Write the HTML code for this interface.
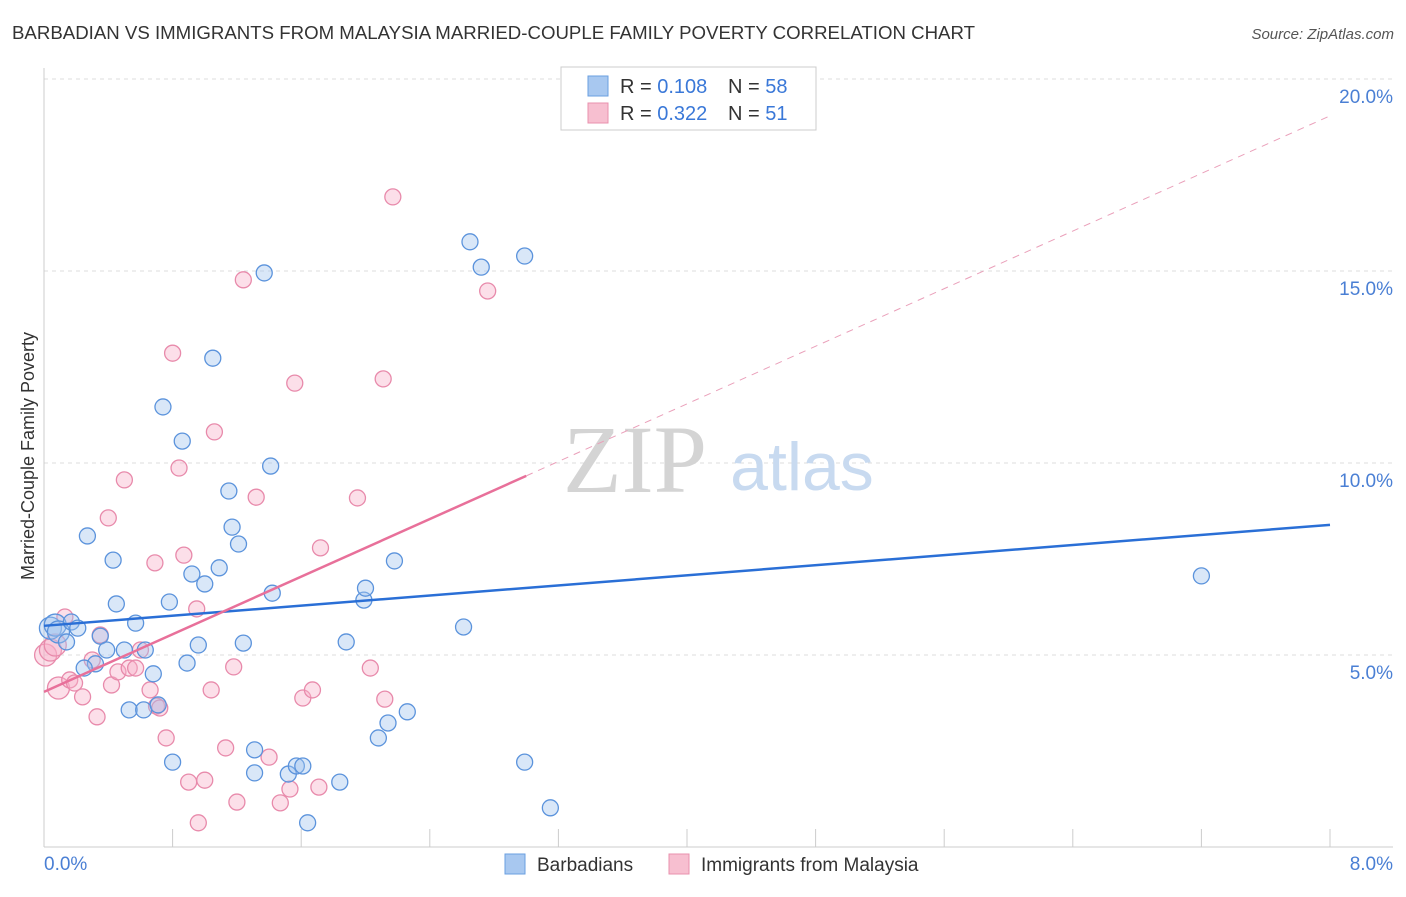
<!DOCTYPE html>
<html><head><meta charset="utf-8"><style>
body{margin:0;background:#fff;font-family:"Liberation Sans",sans-serif;}
svg text{font-family:"Liberation Sans",sans-serif;}
</style></head><body>
<svg id="c" width="1406" height="892" xmlns="http://www.w3.org/2000/svg">
<text x="12" y="39" font-size="18" fill="#333" textLength="963" lengthAdjust="spacingAndGlyphs">BARBADIAN VS IMMIGRANTS FROM MALAYSIA MARRIED-COUPLE FAMILY POVERTY CORRELATION CHART</text>
<text x="1394" y="39" font-size="15" fill="#555" font-style="italic" text-anchor="end">Source: ZipAtlas.com</text>
<text transform="translate(34,456) rotate(-90)" font-size="18" fill="#333" text-anchor="middle">Married-Couple Family Poverty</text>
<g id="grid"></g>
<text x="635" y="492" font-size="96" fill="#d4d4d4" style="font-family:'Liberation Serif',serif" text-anchor="middle">ZIP</text>
<text x="802" y="490" font-size="68" fill="#c8daf0" text-anchor="middle">atlas</text>
<g id="pts"></g>
<g id="lines"></g>
<g>
<rect x="561" y="67" width="255" height="63" fill="#fff" stroke="#ccc"/>
<rect x="588" y="76" width="20" height="20" fill="#a8c8f0" stroke="#6a9fe0"/>
<rect x="588" y="103" width="20" height="20" fill="#f7bfd0" stroke="#e890ae"/>
<text x="620" y="93" font-size="20" fill="#333">R = <tspan fill="#3a78d8">0.108</tspan></text>
<text x="728" y="93" font-size="20" fill="#333">N = <tspan fill="#3a78d8">58</tspan></text>
<text x="620" y="120" font-size="20" fill="#333">R = <tspan fill="#3a78d8">0.322</tspan></text>
<text x="728" y="120" font-size="20" fill="#333">N =  <tspan fill="#3a78d8">51</tspan></text>
</g>
<g>
<rect x="505" y="854" width="20" height="20" fill="#a8c8f0" stroke="#6a9fe0"/>
<text x="537" y="871" font-size="19" fill="#333">Barbadians</text>
<rect x="669" y="854" width="20" height="20" fill="#f7bfd0" stroke="#e890ae"/>
<text x="701" y="871" font-size="19" fill="#333">Immigrants from Malaysia</text>
</g>
</svg>
<script>
const blueX=[.04,.07,.09,.14,.17,.21,.27,.32,.25,.35,.39,.43,.45,.50,.53,.57,.62,.63,.68,.71,.74,.78,.80,.86,.89,.92,.96,1.00,1.05,1.09,1.15,1.17,1.21,1.24,1.31,1.31,1.37,1.41,1.42,1.52,1.57,1.61,1.64,1.84,1.88,1.99,2.00,2.08,2.14,2.18,2.26,2.61,2.65,2.72,2.99,2.99,3.15,7.20];
const blueY=[5.70,5.78,5.60,5.34,5.86,5.70,8.10,4.77,4.66,5.49,5.13,7.47,6.33,5.13,3.57,5.83,3.57,5.13,4.51,3.70,11.46,6.38,2.21,10.57,4.79,7.11,5.26,6.85,12.73,7.27,9.27,8.33,7.89,5.31,2.53,1.93,14.95,9.92,6.61,1.90,2.11,2.11,0.63,1.69,5.34,6.43,6.74,2.84,3.23,7.45,3.52,5.73,15.76,15.10,15.39,2.21,1.02,7.06];
const pinkX=[.01,.04,.07,.09,.13,.16,.19,.24,.30,.33,.35,.40,.42,.46,.50,.53,.57,.60,.66,.69,.70,.72,.76,.80,.84,.87,.90,.95,.96,1.00,1.04,1.06,1.13,1.18,1.20,1.24,1.32,1.40,1.47,1.53,1.56,1.61,1.67,1.71,1.72,1.95,2.03,2.11,2.12,2.17,2.76];
const pinkY=[5.00,5.13,5.26,4.14,5.99,4.35,4.27,3.91,4.87,3.39,5.52,8.57,4.22,4.56,9.56,4.66,4.66,5.13,4.09,7.40,3.67,3.62,2.84,12.86,9.87,7.60,1.69,6.20,0.63,1.74,4.09,10.81,2.58,4.69,1.17,14.77,9.11,2.34,1.15,1.51,12.08,3.88,4.09,1.56,7.79,9.09,4.66,12.19,3.85,16.93,14.48];
const yTicks=[5,10,15,20];
const yTickLabels=["5.0%","10.0%","15.0%","20.0%"];
const blueTrend=[5.76,8.39];
const pinkTrend=[4.04,19.04];
const pinkSolidEnd=3.0;
const NS="http://www.w3.org/2000/svg";
const X=v=>44+v*160.75, Y=v=>847-v*38.4;
function mk(t,a,p){const e=document.createElementNS(NS,t);for(const k in a)e.setAttribute(k,a[k]);p.appendChild(e);return e;}
const grid=document.getElementById('grid');
yTicks.forEach((t,i)=>{
 const l=mk('line',{x1:44,x2:1393,y1:Y(t),y2:Y(t),stroke:'#ddd','stroke-dasharray':'4,4'},grid);
 
 
 const tx=mk('text',{x:1393,y:Y(t)+24,'font-size':19,fill:'#4a7fd4','text-anchor':'end'},grid);
 tx.textContent=yTickLabels[i];
 
 
});
mk('line',{x1:44,x2:44,y1:68,y2:847,stroke:'#ccc'},grid);
mk('line',{x1:44,x2:1393,y1:847,y2:847,stroke:'#ccc'},grid);
for(let i=0;i<=10;i++){const t=mk('line',{x1:X(i*0.8),x2:X(i*0.8),y1:829,y2:847,stroke:'#ccc'},grid);
 
 }
const xl0=mk('text',{x:44,y:870,'font-size':19,fill:'#4a7fd4'},grid);xl0.textContent='0.0%';


const xl1=mk('text',{x:1393,y:870,'font-size':19,fill:'#4a7fd4','text-anchor':'end'},grid);xl1.textContent='8.0%';


const pts=document.getElementById('pts');
function dots(xs,ys,fill,stroke,name){xs.forEach((x,i)=>{const big=(x<0.1)?11:8;
 const c=mk('circle',{cx:X(x),cy:Y(ys[i]),r:big,fill:fill,'fill-opacity':0.4,stroke:stroke,'stroke-width':1.3},pts);
 
 });}
dots(pinkX,pinkY,'#f7b0c8','#e88aab','malaysia-point');
dots(blueX,blueY,'#9fc2ee','#5b93dc','barbadian-point');
const lg=document.getElementById('lines');
const pAt=v=>pinkTrend[0]+(pinkTrend[1]-pinkTrend[0])*v/8;
const b=mk('line',{x1:X(0),y1:Y(blueTrend[0]),x2:X(8),y2:Y(blueTrend[1]),stroke:'#2a6fd6','stroke-width':2.5},lg);


const p1=mk('line',{x1:X(0),y1:Y(pAt(0)),x2:X(pinkSolidEnd),y2:Y(pAt(pinkSolidEnd)),stroke:'#e8709a','stroke-width':2.5},lg);


const p2=mk('line',{x1:X(pinkSolidEnd),y1:Y(pAt(pinkSolidEnd)),x2:X(8),y2:Y(pAt(8)),stroke:'#eaa0ba','stroke-width':1,'stroke-dasharray':'7,6'},lg);


</script>
</body></html>
